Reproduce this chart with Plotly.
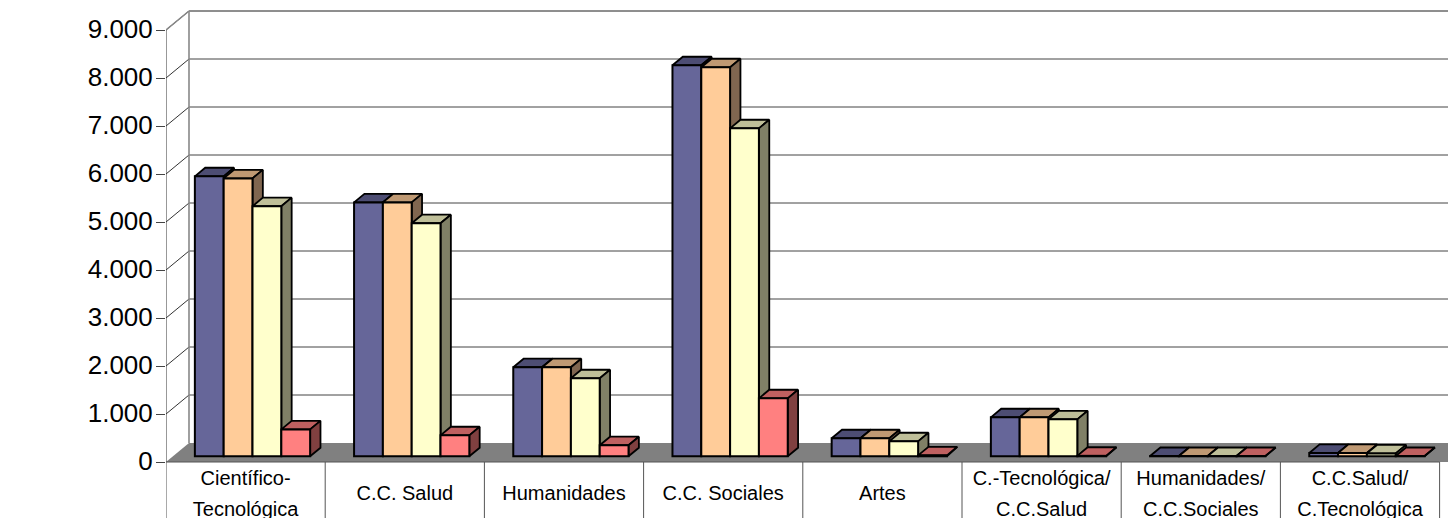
import plotly.graph_objects as go

categories = ["Científico-<br>Tecnológica", "C.C. Salud", "Humanidades", "C.C. Sociales", "Artes",
              "C.-Tecnológica/<br>C.C.Salud", "Humanidades/<br>C.C.Sociales", "C.C.Salud/<br>C.Tecnológica"]
serie_a = [5833, 5290, 1855, 8146, 375, 812, 5, 70]
serie_b = [5790, 5290, 1855, 8104, 375, 812, 5, 70]
serie_c = [5210, 4855, 1625, 6833, 312, 770, 5, 60]
serie_d = [560, 437, 230, 1208, 20, 10, 5, 5]
tick_vals = [0, 1000, 2000, 3000, 4000, 5000, 6000, 7000, 8000, 9000]
tick_text = ["0", "1.000", "2.000", "3.000", "4.000", "5.000", "6.000", "7.000", "8.000", "9.000"]

series = [serie_a, serie_b, serie_c, serie_d]
front = ["#666699", "#FFCC99", "#FFFFCC", "#FF8080"]
top = ["#4D4D73", "#BF9973", "#BFBF99", "#BF6060"]
side = ["#33334D", "#806650", "#808066", "#804040"]

CAT_PX = 159.2
VAL_PX = 0.048
DX = 23 / CAT_PX      # full floor depth, category units
DY = 19 / VAL_PX      # full floor depth, value units
BAR_D0, BAR_D1 = 0.3, 0.75
BAR_START = 0.138
BAR_W = 0.181
N = len(categories)
X_MAX = (1448 - 166) / CAT_PX
Y_MIN = -56 / VAL_PX
Y_MAX = 462 / VAL_PX
GRID = "#444444"


def px(x, d):
    return x + d * DX


def py(v, d):
    return v + d * DY


fig = go.Figure()


def poly(xs, ys, fill, line="rgba(0,0,0,0)", width=0, z=0):
    fig.add_trace(go.Scatter(x=xs, y=ys, mode="lines", fill="toself", fillcolor=fill,
                             line=dict(color=line, width=width), hoverinfo="skip",
                             showlegend=False, zorder=z))


def lines(segs, color, width, z=1):
    xs, ys = [], []
    for (x0, y0, x1, y1) in segs:
        xs += [x0, x1, None]
        ys += [y0, y1, None]
    fig.add_trace(go.Scatter(x=xs, y=ys, mode="lines", line=dict(color=color, width=width),
                             hoverinfo="skip", showlegend=False, zorder=z))


# floor
poly([px(0, 0), px(0, 1), px(N + 1, 1), px(N + 1, 0)], [0, py(0, 1), py(0, 1), 0], "#808080")
# wall grid and its slanted links
lines([(px(0, 1), py(v, 1), X_MAX, py(v, 1)) for v in tick_vals[1:]], GRID, 1)
lines([(px(0, 0), v, px(0, 1), py(v, 1)) for v in tick_vals[1:]], "#333333", 1)
lines([(px(0, 1), py(0, 1), px(0, 1), py(9000, 1)),
       (px(0, 1), py(9000, 1), X_MAX, py(9000, 1)),
       (px(0, 0), 9000, px(0, 1), py(9000, 1))], "#888888", 1.6)
# front axis lines and category dividers
lines([(0, 0, 0, 9000)], "#333333", 1)
lines([(i, Y_MIN, i, 0) for i in range(N + 1)], "#555555", 1)
lines([(0, 0, N, 0)], "#555555", 1)

# bars: each series paints over the one on its left
for j, vals in enumerate(series):
    z = 10 + 2 * j
    tx, ty, sx, sy = [], [], [], []
    bx = [i + BAR_START + j * BAR_W for i in range(N)]
    for x0, v in zip(bx, vals):
        x1 = x0 + BAR_W
        tx += [px(x0, BAR_D0), px(x0, BAR_D1), px(x1, BAR_D1), px(x1, BAR_D0), px(x0, BAR_D0), None]
        ty += [py(v, BAR_D0), py(v, BAR_D1), py(v, BAR_D1), py(v, BAR_D0), py(v, BAR_D0), None]
        sx += [px(x1, BAR_D0), px(x1, BAR_D1), px(x1, BAR_D1), px(x1, BAR_D0), px(x1, BAR_D0), None]
        sy += [py(0, BAR_D0), py(0, BAR_D1), py(v, BAR_D1), py(v, BAR_D0), py(0, BAR_D0), None]
    poly(tx, ty, top[j], "#000000", 1.8, z)
    poly(sx, sy, side[j], "#000000", 1.8, z)
    fig.add_trace(go.Bar(x=[px(x + BAR_W / 2, BAR_D0) for x in bx], y=vals,
                         base=[py(0, BAR_D0)] * N, width=BAR_W,
                         marker=dict(color=front[j], line=dict(color="#000000", width=2)),
                         hoverinfo="skip", showlegend=False, zorder=z + 1))

# category labels
lx, ly, lt = [], [], []
for i, c in enumerate(categories):
    parts = c.split("<br>")
    rows = [-688] if len(parts) == 1 else [-375, -1021]
    for p, r in zip(parts, rows):
        lx.append(i + 0.5)
        ly.append(r)
        lt.append(p)
fig.add_trace(go.Scatter(x=lx, y=ly, mode="text", text=lt, textposition="middle center",
                         textfont=dict(family="Liberation Sans", size=20, color="#000000"),
                         hoverinfo="skip", showlegend=False, cliponaxis=False, zorder=30))

fig.update_layout(
    width=1448, height=518, autosize=False, barmode="overlay",
    margin=dict(l=166, r=0, t=0, b=0),
    paper_bgcolor="#FFFFFF", plot_bgcolor="#FFFFFF", showlegend=False,
    xaxis=dict(range=[0, X_MAX], visible=False, fixedrange=True),
    yaxis=dict(range=[Y_MIN, Y_MAX], tickmode="array", tickvals=tick_vals, ticktext=tick_text,
               ticks="outside", ticklen=9, tickcolor="#444444", tickwidth=1,
               ticklabelstandoff=-2, ticklabelshift=-1,
               showgrid=False, zeroline=False, showline=False, fixedrange=True,
               tickfont=dict(family="Liberation Sans", size=26, color="#000000")),
)
fig.write_html("out.html", config=dict(displayModeBar=False),
               post_script="document.body.style.margin='0';document.body.style.overflow='hidden';")
